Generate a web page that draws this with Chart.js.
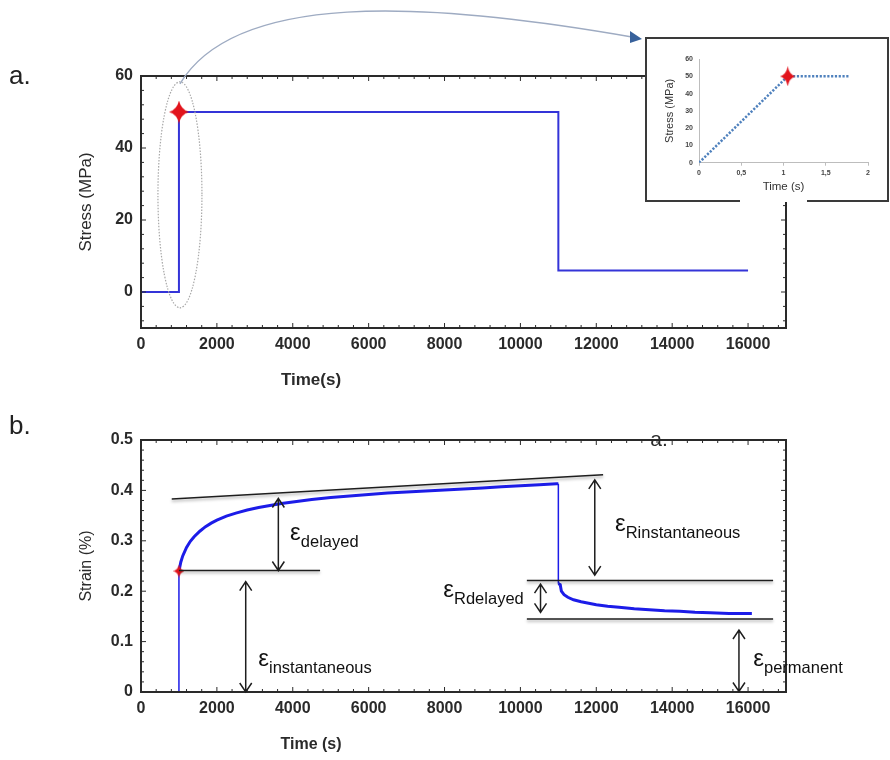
<!DOCTYPE html>
<html>
<head>
<meta charset="utf-8">
<script src="https://cdn.jsdelivr.net/npm/chart.js@4.4.1/dist/chart.umd.min.js"></script>
<style>
  body { margin: 0; background: #fff; width: 890px; height: 760px; position: relative; overflow: hidden;
         font-family: "Liberation Sans", Arial, sans-serif; }
  canvas { position: absolute; }
  #top { left: 0; top: 0; }
  #bottom { left: 0; top: 400px; }
  #inset { left: 645px; top: 37px; }
  .tag { position: absolute; font-size: 26px; color: #222; line-height: 1; }
</style>
</head>
<body>
<canvas id="top" width="890" height="400"></canvas>
<canvas id="bottom" width="890" height="360"></canvas>
<canvas id="inset" width="244" height="165"></canvas>
<div class="tag" style="left:9px;top:62px">a.</div>
<div class="tag" style="left:9px;top:412px">b.</div>
<script>
// ---- values ----
const stressTime = [0, 1000, 1000, 11000, 11000, 16000];
const stressMPa  = [0, 0, 50, 50, 6, 6];
const stressPeak = [1000, 50];

const rampTime   = [0, 1.05, 1.77];
const rampStress = [0, 50, 50];
const rampPeak   = [1.05, 50];

const strainTime = [1000, 1000, 1050, 1100, 1200, 1300, 1400, 1550, 1700, 1850, 2000, 2250, 2500, 2800,
  3100, 3400, 3700, 4000, 4500, 5000, 5500, 6000, 6500, 7000, 7500, 8000, 8500, 9000, 9500, 10000,
  10500, 10950, 11000, 11000, 11050, 11080, 11150, 11250, 11400, 11600, 11800, 12000, 12300, 12600,
  13000, 13400, 13800, 14200, 14600, 15000, 15500, 16000, 16100];
const strainPct  = [0, 0.24, 0.258, 0.27, 0.287, 0.299, 0.308, 0.319, 0.328, 0.335, 0.341, 0.349, 0.355, 0.361,
  0.366, 0.37, 0.374, 0.377, 0.382, 0.386, 0.389, 0.392, 0.395, 0.397, 0.399, 0.401, 0.403, 0.405, 0.407, 0.409,
  0.411, 0.413, 0.413, 0.215, 0.213, 0.2, 0.193, 0.188, 0.183, 0.179, 0.176, 0.173, 0.17, 0.168,
  0.165, 0.163, 0.161, 0.16, 0.158, 0.157, 0.156, 0.156, 0.156];
const strainPeak = [1000, 0.24];

const timeTicks     = [0, 2000, 4000, 6000, 8000, 10000, 12000, 14000, 16000];
const stressTicks   = [0, 20, 40, 60];
const strainTicks   = [0, 0.1, 0.2, 0.3, 0.4, 0.5];
const rampTimeTicks = [0, 0.5, 1, 1.5, 2];
const rampYTicks    = [0, 10, 20, 30, 40, 50, 60];

// annotations on the strain plot (time, strain)
const guideLines = [[810, 0.383, 12180, 0.431], [1000, 0.241, 4720, 0.241],
                    [10170, 0.221, 16660, 0.221], [10170, 0.145, 16660, 0.145]];
const arrows = [[3620, 0.384, 0.241], [2760, 0.219, 0], [11960, 0.421, 0.232],
                [10530, 0.214, 0.158], [15760, 0.123, 0.001]];
const epsLabels = [['delayed', 3930, 0.302], ['instantaneous', 3092, 0.051], ['Rinstantaneous', 12493, 0.32],
                   ['Rdelayed', 7968, 0.189], ['permanent', 16138, 0.051]];

const INK = '#2a2a2a';
const FONT = '"Liberation Sans", Arial, sans-serif';
const pts = (xs, ys) => xs.map((v, i) => ({x: v, y: ys[i]}));
const fixTicks = arr => scale => { scale.ticks = arr.map(v => ({value: v})); };

// red four point star used as point style
function makeStar(w, h) {
  const c = document.createElement('canvas');
  c.width = w; c.height = h;
  const g = c.getContext('2d');
  const cx = w / 2, cy = h / 2, kx = w * 0.1, ky = h * 0.1;
  g.beginPath();
  g.moveTo(cx, 0);
  g.quadraticCurveTo(cx + kx, cy - ky, w, cy);
  g.quadraticCurveTo(cx + kx, cy + ky, cx, h);
  g.quadraticCurveTo(cx - kx, cy + ky, 0, cy);
  g.quadraticCurveTo(cx - kx, cy - ky, cx, 0);
  g.fillStyle = '#e2141c';
  g.fill();
  return c;
}

function isMajor(i, step, major) {
  const r = (i * step) / major;
  return Math.abs(r - Math.round(r)) < 1e-6;
}

// box round the plot with small inward ticks on all sides
function drawFrame(chart, xStep, xMajor, yStep, yMajor) {
  const {ctx, chartArea: a, scales: {x, y}} = chart;
  ctx.save();
  ctx.strokeStyle = INK;
  ctx.lineWidth = 2;
  ctx.strokeRect(a.left, a.top, a.right - a.left, a.bottom - a.top);
  ctx.lineWidth = 1;
  ctx.beginPath();
  for (let i = Math.ceil(x.min / xStep - 1e-9); i * xStep <= x.max + 1e-9; i++) {
    const p = x.getPixelForValue(i * xStep), len = isMajor(i, xStep, xMajor) ? 5 : 3;
    ctx.moveTo(p, a.bottom); ctx.lineTo(p, a.bottom - len);
    ctx.moveTo(p, a.top); ctx.lineTo(p, a.top + len);
  }
  for (let i = Math.ceil(y.min / yStep - 1e-9); i * yStep <= y.max + 1e-9; i++) {
    const p = y.getPixelForValue(i * yStep), len = isMajor(i, yStep, yMajor) ? 5 : 3;
    ctx.moveTo(a.left, p); ctx.lineTo(a.left + len, p);
    ctx.moveTo(a.right, p); ctx.lineTo(a.right - len, p);
  }
  ctx.stroke();
  ctx.restore();
}

function drawText(ctx, text, font, x, y) {
  ctx.save();
  ctx.font = font;
  ctx.fillStyle = INK;
  ctx.textAlign = 'center';
  ctx.textBaseline = 'middle';
  ctx.fillText(text, x, y);
  ctx.restore();
}

function baseOptions(pad, yWidth, xHeight) {
  return {
    responsive: false,
    animation: false,
    events: [],
    layout: { padding: pad },
    plugins: { legend: { display: false }, tooltip: { enabled: false } },
    scales: {
      x: {
        type: 'linear', min: 0, max: 17000,
        afterBuildTicks: fixTicks(timeTicks),
        afterFit: s => { s.height = xHeight; },
        grid: { display: false, drawTicks: false },
        border: { display: false },
        ticks: { autoSkip: false, maxRotation: 0, padding: 7, color: INK,
                 font: { family: FONT, size: 16, weight: 'bold' }, callback: v => String(v) }
      },
      y: {
        afterFit: s => { s.width = yWidth; },
        grid: { display: false, drawTicks: false },
        border: { display: false },
        ticks: { padding: 8, color: INK, font: { family: FONT, size: 16, weight: 'bold' } },
        title: { display: true, color: INK }
      }
    }
  };
}

// -----------------------------
// a. stress history
// -----------------------------
const topOpts = baseOptions({ left: 0, top: 76, right: 104, bottom: 0 }, 141, 72);
Object.assign(topOpts.scales.y, { min: -10, max: 60, afterBuildTicks: fixTicks(stressTicks) });
Object.assign(topOpts.scales.y.title, { text: 'Stress (MPa)', font: { family: FONT, size: 17 }, padding: { top: 76, bottom: 0 } });

new Chart(document.getElementById('top'), {
  type: 'line',
  data: {
    datasets: [
      { data: [{x: stressPeak[0], y: stressPeak[1]}], pointStyle: makeStar(20, 23), pointRadius: 6, showLine: false },
      { data: pts(stressTime, stressMPa), borderColor: '#3434d8', borderWidth: 2, pointRadius: 0, tension: 0 }
    ]
  },
  options: topOpts,
  plugins: [{
    id: 'stressExtras',
    afterDraw(chart) {
      const {ctx, scales: {x, y}} = chart;
      drawFrame(chart, 400, 2000, 4, 20);
      drawText(ctx, 'Time(s)', 'bold 17px ' + FONT, 311, 380);
      // zoom ellipse round the loading step
      const cx = x.getPixelForValue(stressPeak[0]) + 1, cy = y.getPixelForValue(27);
      ctx.save();
      ctx.strokeStyle = '#a8a8a8';
      ctx.lineWidth = 1.2;
      ctx.setLineDash([1.5, 1.5]);
      ctx.beginPath();
      ctx.ellipse(cx, cy, 22, 113, 0, 0, Math.PI * 2);
      ctx.stroke();
      // curved pointer to the inset
      ctx.setLineDash([]);
      ctx.strokeStyle = '#9eabc2';
      ctx.lineWidth = 1.4;
      ctx.beginPath();
      ctx.moveTo(cx, cy - 111);
      ctx.bezierCurveTo(235, -8, 420, 0, 632, 37);
      ctx.stroke();
      ctx.fillStyle = '#37619b';
      ctx.beginPath();
      ctx.moveTo(642, 39);
      ctx.lineTo(630, 31);
      ctx.lineTo(630, 43);
      ctx.closePath();
      ctx.fill();
      ctx.restore();
    }
  }]
});

// -----------------------------
// b. strain response
// -----------------------------
const botOpts = baseOptions({ left: 0, top: 40, right: 104, bottom: 0 }, 141, 68);
Object.assign(botOpts.scales.y, { min: 0, max: 0.5, afterBuildTicks: fixTicks(strainTicks) });
Object.assign(botOpts.scales.y.title, { text: 'Strain (%)', font: { family: FONT, size: 16 }, padding: { top: 77, bottom: 0 } });

new Chart(document.getElementById('bottom'), {
  type: 'line',
  data: {
    datasets: [
      { data: [{x: strainPeak[0], y: strainPeak[1]}], pointStyle: makeStar(11, 13), pointRadius: 4, showLine: false },
      {
        data: pts(strainTime, strainPct), borderColor: '#1c1ce8', borderWidth: 3, pointRadius: 0, tension: 0,
        segment: { borderWidth: c => c.p0.parsed.x === c.p1.parsed.x ? 1.5 : 3 }
      }
    ]
  },
  options: botOpts,
  plugins: [{
    id: 'strainExtras',
    afterDraw(chart) {
      const {ctx, scales: {x, y}} = chart;
      drawFrame(chart, 400, 2000, 0.02, 0.1);
      drawText(ctx, 'Time (s)', 'bold 16px ' + FONT, 311, 345);
      drawText(ctx, 'a.', '21px ' + FONT, 659, 40);

      ctx.save();
      ctx.strokeStyle = '#1e1e1e';
      ctx.lineWidth = 1.5;
      // guide lines with soft shadow
      ctx.shadowColor = 'rgba(0,0,0,0.35)';
      ctx.shadowBlur = 3;
      ctx.shadowOffsetY = 2;
      guideLines.forEach(([t1, e1, t2, e2]) => {
        ctx.beginPath();
        ctx.moveTo(x.getPixelForValue(t1), y.getPixelForValue(e1));
        ctx.lineTo(x.getPixelForValue(t2), y.getPixelForValue(e2));
        ctx.stroke();
      });
      ctx.shadowColor = 'transparent';
      // double headed arrows
      arrows.forEach(([t, e1, e2]) => {
        const px = x.getPixelForValue(t), p1 = y.getPixelForValue(e1), p2 = y.getPixelForValue(e2);
        ctx.beginPath();
        ctx.moveTo(px, p1); ctx.lineTo(px, p2);
        ctx.moveTo(px - 6, p1 + 9); ctx.lineTo(px, p1); ctx.lineTo(px + 6, p1 + 9);
        ctx.moveTo(px - 6, p2 - 9); ctx.lineTo(px, p2); ctx.lineTo(px + 6, p2 - 9);
        ctx.stroke();
      });
      // epsilon labels
      ctx.fillStyle = '#111';
      ctx.textAlign = 'left';
      ctx.textBaseline = 'alphabetic';
      epsLabels.forEach(([sub, t, e]) => {
        const px = x.getPixelForValue(t), py = y.getPixelForValue(e);
        ctx.font = '24px ' + FONT;
        ctx.fillText('ε', px, py);
        const w = ctx.measureText('ε').width;
        ctx.font = '16.5px ' + FONT;
        ctx.fillText(sub, px + w, py + 7);
      });
      ctx.restore();
    }
  }]
});

// -----------------------------
// inset: loading ramp
// -----------------------------
new Chart(document.getElementById('inset'), {
  type: 'line',
  data: {
    datasets: [
      { data: [{x: rampPeak[0], y: rampPeak[1]}], pointStyle: makeStar(15, 20), pointRadius: 5, showLine: false },
      { data: pts(rampTime, rampStress), borderColor: '#4f81bd', borderWidth: 2.5, borderDash: [2.2, 1.6],
        pointRadius: 0, tension: 0 }
    ]
  },
  options: {
    responsive: false,
    animation: false,
    events: [],
    layout: { padding: { left: 0, top: 22, right: 21, bottom: 0 } },
    plugins: { legend: { display: false }, tooltip: { enabled: false } },
    scales: {
      x: {
        type: 'linear', min: 0, max: 2,
        afterBuildTicks: fixTicks(rampTimeTicks),
        afterFit: s => { s.height = 39.3; },
        grid: { drawOnChartArea: false, tickLength: 3, color: '#bdbdbd' },
        border: { color: '#bdbdbd' },
        ticks: { autoSkip: false, maxRotation: 0, padding: 3, color: '#444',
                 font: { family: FONT, size: 7, weight: 'bold' }, callback: v => String(v).replace('.', ',') },
        title: { display: true, text: 'Time (s)', color: '#333', font: { family: FONT, size: 11.5 },
                 padding: { top: 0, bottom: 8 } }
      },
      y: {
        min: 0, max: 60,
        afterBuildTicks: fixTicks(rampYTicks),
        afterFit: s => { s.width = 54; },
        grid: { display: false, drawTicks: false },
        border: { display: true, color: '#bdbdbd' },
        ticks: { padding: 6, color: '#444', font: { family: FONT, size: 7, weight: 'bold' } },
        title: { display: true, text: 'Stress (MPa)', color: '#333', font: { family: FONT, size: 11 },
                 padding: { top: 18, bottom: 0 } }
      }
    }
  },
  plugins: [{
    id: 'insetBox',
    beforeDraw(chart) {
      const {ctx, width, height} = chart;
      ctx.save();
      ctx.fillStyle = '#fff';
      ctx.fillRect(0, 0, width, height);
      ctx.restore();
    },
    afterDraw(chart) {
      const {ctx, width, height} = chart;
      ctx.save();
      ctx.strokeStyle = '#3a3a3a';
      ctx.lineWidth = 2;
      ctx.beginPath();
      ctx.moveTo(95, height - 1); ctx.lineTo(1, height - 1); ctx.lineTo(1, 1);
      ctx.lineTo(width - 1, 1); ctx.lineTo(width - 1, height - 1); ctx.lineTo(162, height - 1);
      ctx.stroke();
      ctx.restore();
    }
  }]
});
</script>
</body>
</html>
